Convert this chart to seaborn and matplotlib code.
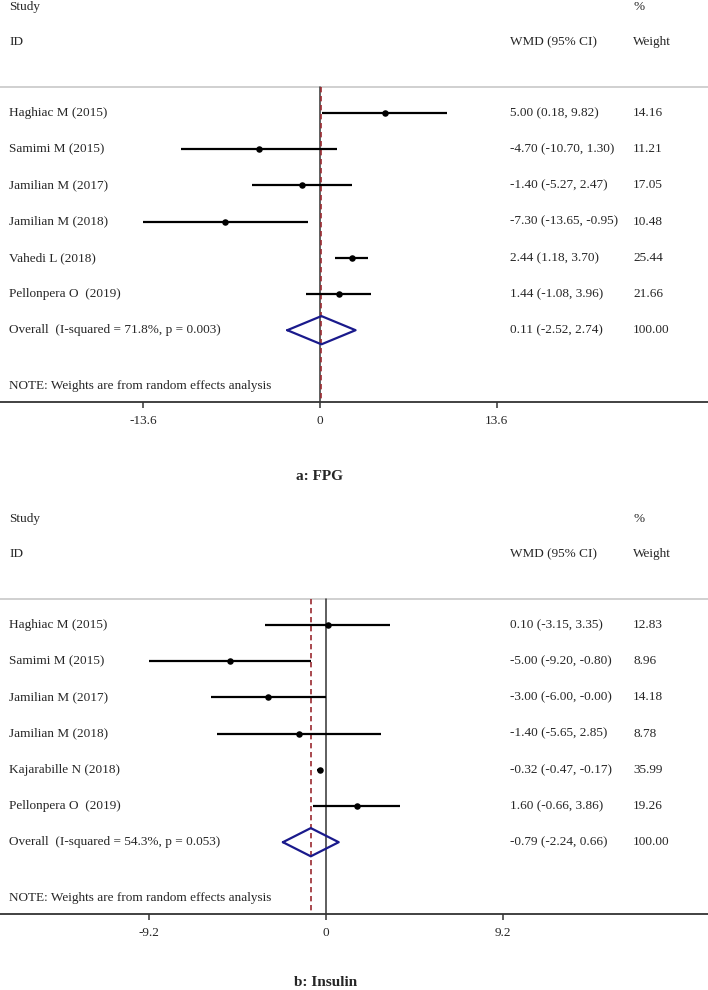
import numpy as np
import pandas as pd
import matplotlib
matplotlib.use('Agg')
import matplotlib.pyplot as plt
import matplotlib.transforms as mtransforms
import seaborn as sns

# panel a: FPG
fpg_studies = ['Haghiac M (2015)', 'Samimi M (2015)', 'Jamilian M (2017)',
               'Jamilian M (2018)', 'Vahedi L (2018)', 'Pellonpera O  (2019)']
fpg_wmd = [5.00, -4.70, -1.40, -7.30, 2.44, 1.44]
fpg_low = [0.18, -10.70, -5.27, -13.65, 1.18, -1.08]
fpg_high = [9.82, 1.30, 2.47, -0.95, 3.70, 3.96]
fpg_weight = [14.16, 11.21, 17.05, 10.48, 25.44, 21.66]
fpg_overall = [0.11, -2.52, 2.74]
fpg_het = 'Overall  (I-squared = 71.8%, p = 0.003)'
fpg_ticks = [-13.6, 0, 13.6]

# panel b: Insulin
ins_studies = ['Haghiac M (2015)', 'Samimi M (2015)', 'Jamilian M (2017)',
               'Jamilian M (2018)', 'Kajarabille N (2018)', 'Pellonpera O  (2019)']
ins_wmd = [0.10, -5.00, -3.00, -1.40, -0.32, 1.60]
ins_low = [-3.15, -9.20, -6.00, -5.65, -0.47, -0.66]
ins_high = [3.35, -0.80, -0.0, 2.85, -0.17, 3.86]
ins_weight = [12.83, 8.96, 14.18, 8.78, 35.99, 19.26]
ins_overall = [-0.79, -2.24, 0.66]
ins_het = 'Overall  (I-squared = 54.3%, p = 0.053)'
ins_ticks = [-9.2, 0, 9.2]

sns.set_theme(style='white')
plt.rcParams['font.family'] = ['Liberation Serif', 'DejaVu Serif']

W, H = 708, 990
fig = plt.figure(figsize=(W / 100, H / 100), dpi=100)

ROW_PX = 36.2
FIRST_ROW_PX = 113
AXIS_PX = 402
FS = 9.5


def draw_panel(top_px, studies, wmd, low, high, weight, overall, het, ticks, xlim, caption, cap_px):
    df = pd.DataFrame({'study': studies, 'wmd': wmd, 'low': low, 'high': high, 'weight': weight})
    df['row'] = np.arange(len(df))
    n = len(df)

    top_row = -FIRST_ROW_PX / ROW_PX
    axis_row = (AXIS_PX - FIRST_ROW_PX) / ROW_PX
    ax = fig.add_axes([0, 1 - (top_px + AXIS_PX) / H, 1, AXIS_PX / H])
    ax.set_xlim(xlim)
    ax.set_ylim(axis_row, top_row)
    ax.patch.set_alpha(0)

    grey_row = (87 - FIRST_ROW_PX) / ROW_PX
    ax.axhline(grey_row, color='#c8c8c8', lw=1.2)

    # null line and overall estimate line
    ax.plot([0, 0], [grey_row, axis_row], color='#333333', lw=1.1, zorder=2)
    ax.plot([overall[0], overall[0]], [grey_row, axis_row], color='#9b2a30', lw=1.2,
            dashes=(3.2, 2.2), zorder=2)

    # confidence intervals and point estimates
    ax.hlines(df['row'], df['low'], df['high'], color='black', lw=1.6, zorder=3)
    sns.scatterplot(data=df, x='wmd', y='row', color='black', s=22, linewidth=0,
                    ax=ax, zorder=4, legend=False)

    # overall diamond
    orow = n
    est, lo, hi = overall
    hh = 0.39
    ax.plot([lo, est, hi, est, lo], [orow, orow - hh, orow, orow + hh, orow],
            color='#1a1a8c', lw=1.6, zorder=5)

    tr = mtransforms.blended_transform_factory(ax.transAxes, ax.transData)
    x_lab, x_ci, x_w = 9 / W, 510 / W, 633 / W
    study_row = (7 - FIRST_ROW_PX) / ROW_PX
    id_row = (42 - FIRST_ROW_PX) / ROW_PX
    ax.text(x_lab, study_row, 'Study', transform=tr, va='center', fontsize=FS)
    ax.text(x_w, study_row, '%', transform=tr, va='center', fontsize=FS)
    ax.text(x_lab, id_row, 'ID', transform=tr, va='center', fontsize=FS)
    ax.text(x_ci, id_row, 'WMD (95% CI)', transform=tr, va='center', fontsize=FS)
    ax.text(x_w, id_row, 'Weight', transform=tr, va='center', fontsize=FS)

    for _, r in df.iterrows():
        ax.text(x_lab, r['row'], r['study'], transform=tr, va='center', fontsize=FS)
        ax.text(x_ci, r['row'], f"{r['wmd']:.2f} ({r['low']:.2f}, {r['high']:.2f})",
                transform=tr, va='center', fontsize=FS)
        ax.text(x_w, r['row'], f"{r['weight']:.2f}", transform=tr, va='center', fontsize=FS)

    ax.text(x_lab, orow, het, transform=tr, va='center', fontsize=FS)
    ax.text(x_ci, orow, f"{est:.2f} ({lo:.2f}, {hi:.2f})", transform=tr, va='center', fontsize=FS)
    ax.text(x_w, orow, f"{df['weight'].sum():.2f}", transform=tr, va='center', fontsize=FS)

    note_row = (386 - FIRST_ROW_PX) / ROW_PX
    ax.text(x_lab, note_row, 'NOTE: Weights are from random effects analysis',
            transform=tr, va='center', fontsize=FS)

    ax.set_yticks([])
    ax.set_ylabel('')
    ax.set_xlabel('')
    ax.set_xticks(ticks)
    ax.set_xticklabels([f'{t:g}' for t in ticks])
    sns.despine(ax=ax, left=True, top=True, right=True)
    ax.spines['bottom'].set_color('#333333')
    ax.spines['bottom'].set_linewidth(1.3)
    ax.tick_params(axis='x', direction='out', length=4.5, width=1.1, color='#333333',
                   labelsize=FS, pad=5, bottom=True)

    cap_x = (0 - xlim[0]) / (xlim[1] - xlim[0])
    fig.text(cap_x, 1 - cap_px / H, caption, ha='center', va='center',
             fontsize=11, fontweight='bold')


draw_panel(0, fpg_studies, fpg_wmd, fpg_low, fpg_high, fpg_weight, fpg_overall,
           fpg_het, fpg_ticks, (-320 / 12.98, 388 / 12.98), 'a: FPG', 476)
draw_panel(512, ins_studies, ins_wmd, ins_low, ins_high, ins_weight, ins_overall,
           ins_het, ins_ticks, (-326 / 19.24, 382 / 19.24), 'b: Insulin', 983)

fig.savefig('out.png', dpi=100)
